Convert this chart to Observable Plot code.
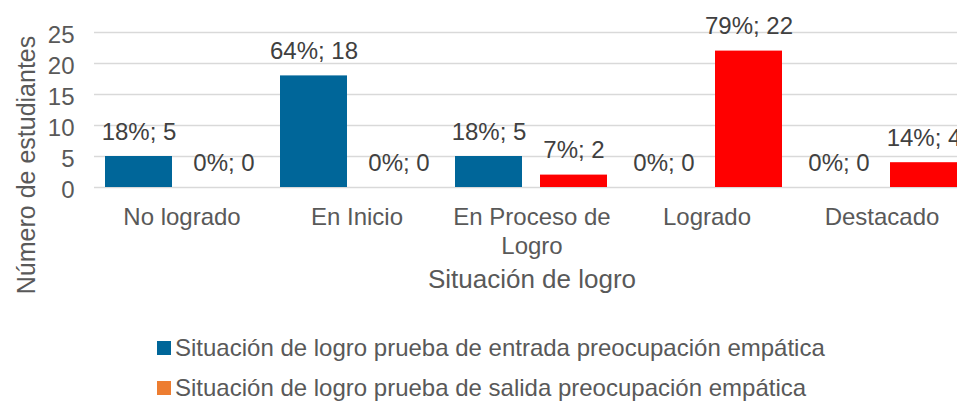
<!DOCTYPE html>
<html>
<head>
<meta charset="utf-8">
<script src="https://cdn.jsdelivr.net/npm/d3@7"></script>
<script src="https://cdn.jsdelivr.net/npm/@observablehq/plot@0.6"></script>
<style>
  html, body { margin: 0; padding: 0; background: #fff; }
  #wrap { width: 957px; height: 403px; overflow: hidden; position: relative; font-family: "Liberation Sans", Arial, sans-serif; }
  #wrap svg { max-width: none !important; display: block; }
  #legend { padding-left: 157px; margin-top: 23px; color: #595959; font-size: 24px; }
  .item { height: 40px; display: flex; align-items: center; white-space: nowrap; }
  .sw { width: 14px; height: 14px; margin-right: 4px; flex: none; }
</style>
</head>
<body>
<div id="wrap"></div>
<script>
const categories = ["No logrado", "En Inicio", "En Proceso de Logro", "Logrado", "Destacado"];
const categoryLabels = ["No logrado", "En Inicio", "En Proceso de\nLogro", "Logrado", "Destacado"];
const series = ["Situación de logro prueba de entrada preocupación empática", "Situación de logro prueba de salida preocupación empática"];
const entrada = [5, 18, 5, 0, 0];
const entradaPct = ["18%", "64%", "18%", "0%", "0%"];
const salida = [0, 0, 2, 22, 4];
const salidaPct = ["0%", "0%", "7%", "79%", "14%"];
const yTicks = [0, 5, 10, 15, 20, 25];
const barColors = ["#006699", "#FF0000"];
const legendColors = ["#006699", "#ED7D31"];

const data = categories.flatMap((c, i) => [
  {cat: c, serie: series[0], value: entrada[i], label: `${entradaPct[i]}; ${entrada[i]}`},
  {cat: c, serie: series[1], value: salida[i], label: `${salidaPct[i]}; ${salida[i]}`}
]);

const chart = Plot.plot({
  width: 975,
  height: 305,
  marginLeft: 94,
  marginRight: 6,
  marginTop: 32,
  marginBottom: 118,
  style: {fontFamily: "'Liberation Sans', Arial, sans-serif", color: "#595959", background: "#fff", maxWidth: "none"},
  fx: {domain: categories, paddingInner: 0, paddingOuter: 0},
  x: {domain: series, paddingInner: 0.2093, paddingOuter: 0.1221, axis: null},
  y: {domain: [0, 25], axis: null},
  color: {domain: series, range: barColors},
  marks: [
    Plot.gridY(yTicks, {stroke: "#D9D9D9", strokeWidth: 1.5, strokeOpacity: 1}),
    Plot.axisY(yTicks, {anchor: "left", tickSize: 0, tickPadding: 20, fontSize: 24, fill: "#595959", label: null, dy: 3}),
    Plot.axisFx({anchor: "bottom", tickSize: 0, tickPadding: 17, fontSize: 24, lineHeight: 1.2, fill: "#595959", label: null,
      tickFormat: d => categoryLabels[categories.indexOf(d)]}),
    Plot.barY(data, {fx: "cat", x: "serie", y: "value", fill: "serie"}),
    Plot.text(data, {fx: "cat", x: "serie", y: "value", text: "label", lineAnchor: "bottom", dy: -17, fontSize: 24, fill: "#404040"}),
    Plot.text(["Situación de logro"], {fx: () => categories[2], frameAnchor: "bottom", lineAnchor: "bottom", dy: 100, fontSize: 26, fill: "#595959"}),
    Plot.text(["Número de estudiantes"], {fx: () => categories[0], frameAnchor: "left", textAnchor: "middle", rotate: -90, lineAnchor: "top", dx: -77, dy: 55, fontSize: 25, fill: "#595959"})
  ]
});

const wrap = document.getElementById("wrap");
wrap.appendChild(chart);
const legend = document.createElement("div");
legend.id = "legend";
series.forEach((s, i) => {
  const item = document.createElement("div");
  item.className = "item";
  const sw = document.createElement("span");
  sw.className = "sw";
  sw.style.background = legendColors[i];
  const t = document.createElement("span");
  t.textContent = s;
  item.appendChild(sw);
  item.appendChild(t);
  legend.appendChild(item);
});
wrap.appendChild(legend);
</script>
</body>
</html>
